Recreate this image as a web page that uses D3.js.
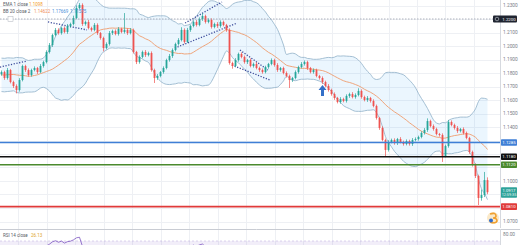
<!DOCTYPE html>
<html>
<head>
<meta charset="utf-8">
<script src="https://cdn.jsdelivr.net/npm/d3@7"></script>
<style>
  html, body { margin: 0; padding: 0; background: #fff; }
  svg { display: block; font-family: Roboto, "DejaVu Sans", sans-serif; }
</style>
</head>
<body>
<div id="chart"></div>
<script>
// daily closes, one per candle (left to right)
const closes = [
  1.1807, 1.1763, 1.1822, 1.1733, 1.1704,
  1.1674, 1.1748, 1.1852, 1.1822, 1.1785,
  1.1822, 1.1837, 1.1807, 1.1852, 1.1881,
  1.1956, 1.2007, 1.2081, 1.2119, 1.2096,
  1.2133, 1.2104, 1.2148, 1.2163, 1.2207,
  1.2281, 1.2304, 1.2163, 1.2178, 1.2133,
  1.2119, 1.2156, 1.2096, 1.2059, 1.1985,
  1.2015, 1.2096, 1.2111, 1.2089, 1.2126,
  1.2104, 1.2119, 1.2096, 1.2119, 1.1956,
  1.1881, 1.1919, 1.1956, 1.1933, 1.1948,
  1.1822, 1.1763, 1.1778, 1.1807, 1.1837,
  1.1896, 1.1926, 1.1970, 1.2015, 1.2044,
  1.2119, 1.2030, 1.2119, 1.2148, 1.2178,
  1.2156, 1.2200, 1.2222, 1.2178, 1.2193,
  1.2141, 1.2163, 1.2148, 1.2178, 1.2156,
  1.2119, 1.1874, 1.1852, 1.1896, 1.1941,
  1.1919, 1.1881, 1.1896, 1.1852, 1.1867,
  1.1837, 1.1822, 1.1807, 1.1844, 1.1867,
  1.1896, 1.1859, 1.1822, 1.1837, 1.1800,
  1.1778, 1.1748, 1.1763, 1.1807, 1.1844,
  1.1867, 1.1881, 1.1837, 1.1807, 1.1822,
  1.1778, 1.1763, 1.1733, 1.1704, 1.1674,
  1.1644, 1.1615, 1.1585, 1.1607, 1.1593,
  1.1630, 1.1644, 1.1622, 1.1637, 1.1667,
  1.1622, 1.1600, 1.1615, 1.1593, 1.1556,
  1.1467, 1.1393, 1.1304, 1.1230, 1.1289,
  1.1304, 1.1281, 1.1311, 1.1289, 1.1274,
  1.1296, 1.1274, 1.1304, 1.1311, 1.1326,
  1.1356, 1.1378, 1.1444, 1.1407, 1.1385,
  1.1348, 1.1341, 1.1185, 1.1259, 1.1437,
  1.1415, 1.1393, 1.1370, 1.1385, 1.1356,
  1.1319, 1.1215, 1.1119, 1.1037, 1.0874,
  1.0896, 1.1007, 1.0917
]
const firstOpen = 1.1790

// wick length above / below the body, in pips
const wickUp = [
  12,10,15,8,10, 12,14,10,9,12,
  10,12,8,14,10, 12,15,10,14,12,
  10,12,15,10,18, 20,14,12,10,15,
  10,14,12,8,10, 12,15,10,12,14,
  10,125,12,14,10, 8,12,10,14,10,
  12,10,14,8,12, 10,15,12,10,14,
  20,12,15,10,12, 14,12,20,10,12,
  12,10,14,12,10, 8,12,10,14,10,
  12,10,8,12,10, 14,10,12,10,8,
  12,10,14,8,10, 12,10,8,12,10,
  14,12,10,8,12, 10,8,12,10,14,
  10,12,8,14,10, 12,10,14,12,20,
  12,10,14,8,12, 10,8,12,10,14,
  10,12,8,14,10, 12,10,14,12,10,
  12,14,20,10,12, 10,8,12,10,15,
  12,10,14,8,12, 10,8,10,12,10,
  40,60,20
]
const wickDn = [
  10,14,12,10,15, 25,12,10,14,12,
  12,10,14,8,12, 10,12,14,10,12,
  12,10,14,12,10, 8,10,14,12,10,
  12,10,14,12,25, 10,12,14,10,12,
  10,12,14,10,12, 15,12,10,14,10,
  12,37,14,10,12, 10,12,14,10,12,
  10,12,8,14,10, 12,10,14,12,10,
  12,10,14,12,10, 14,12,20,10,12,
  10,12,14,10,12, 10,14,12,10,12,
  10,12,14,12,10, 12,59,14,10,12,
  10,12,14,10,12, 10,12,14,10,12,
  12,14,10,12,10, 12,14,10,12,10,
  12,10,14,12,10, 12,14,10,52,12,
  10,12,14,10,12, 10,12,14,10,12,
  10,12,14,10,12, 10,12,44,10,12,
  10,12,14,10,12, 10,14,12,15,52,
  20,15,15
]

// closes before the visible window, only used to seed the indicators
const priorCloses = [1.1800, 1.1760, 1.1720, 1.1690, 1.1740, 1.1800, 1.1860, 1.1890, 1.1850, 1.1800,
                     1.1750, 1.1700, 1.1680, 1.1730, 1.1790, 1.1850, 1.1880, 1.1840, 1.1790]

const priceTicks = [1.07, 1.08, 1.09, 1.10, 1.11, 1.12, 1.13, 1.14, 1.15, 1.16, 1.17, 1.18, 1.19, 1.20, 1.21, 1.22, 1.23]

const levelPrices = [1.1285, 1.1180, 1.1120, 1.0810]
const levelLabels = ["1.1285", "1.1180", "1.1120", "1.0810"]
const alertPrice = 1.2200
const lastLabel = ["1.0917", "12:59:35"]

// drawn trend lines: [candle index, price, candle index, price]
const trendLines = [
  [-0.5, 1.1844, 8.5, 1.1889],
  [15.5, 1.2178, 28.5, 1.2119],
  [61.2, 1.2170, 73.5, 1.2326],
  [57.8, 1.1985, 78.5, 1.2170],
  [79.5, 1.1970, 88.8, 1.1822],
  [76.8, 1.1859, 89.5, 1.1748]
]
const arrowMark = {index: 107, top: 1.1711, bottom: 1.1630}

const legendEma = {name: "EMA 1 close", value: "1.1098"}
const legendBB = {name: "BB 20 close 2", values: ["1.14622", "1.17669", "1.11575"]}
const legendRsi = {name: "RSI 14 close", value: "26.13"}

drawChart("#chart")

function drawChart(id){
  const canvas = createCanvas()
  const svg = d3.select(id).append("svg").attr("width", canvas.width).attr("height", canvas.height)
  const data = buildCandles()
  const sc = addScales(canvas)

  addGrid(svg, sc, canvas)
  const plot = addClip(svg, canvas)
  addBands(plot, sc, data)
  addTrendLines(plot, sc)
  addCandles(plot, sc, data)
  addLevels(svg, sc, canvas)
  addArrow(plot, sc)
  addAxis(svg, sc, canvas)
  addRsi(svg, sc, canvas, data)
  addLegends(svg)
  addLogo(svg)
}

function createCanvas(){
  return { width: 520, height: 245, plotRight: 500, plotBottom: 228, rsiTop: 229 }
}

function buildCandles(){
  return closes.map((c, i) => {
    const o = i === 0 ? firstOpen : closes[i - 1]
    return {
      i: i, open: o, close: c,
      high: Math.max(o, c) + wickUp[i] / 10000,
      low: Math.min(o, c) - wickDn[i] / 10000
    }
  })
}

function addScales(canvas){
  const xScale = d3.scaleLinear().domain([0, closes.length - 1]).range([1.5, 487.5])
  const yScale = d3.scaleLinear().domain([1.07, 1.23]).range([221.5, 5.5])
  return {xScale, yScale}
}

function addGrid(svg, sc, canvas){
  const g = svg.append("g")
  g.selectAll(".hgrid").data(priceTicks).enter().append("line")
    .attr("x1", 0).attr("x2", canvas.plotRight)
    .attr("y1", d => Math.round(sc.yScale(d)) + 0.5).attr("y2", d => Math.round(sc.yScale(d)) + 0.5)
    .attr("stroke", "#eef0f4").attr("stroke-width", 1)
  // vertical grid roughly every 9.5 candles
  g.selectAll(".vgrid").data(d3.range(5.5, 162, 9.5)).enter().append("line")
    .attr("x1", d => Math.round(sc.xScale(d)) + 0.5).attr("x2", d => Math.round(sc.xScale(d)) + 0.5)
    .attr("y1", 0).attr("y2", 245)
    .attr("stroke", "#eef0f4").attr("stroke-width", 1)
}

function addClip(svg, canvas){
  svg.append("clipPath").attr("id", "plotclip").append("rect")
    .attr("x", 0).attr("y", 0).attr("width", canvas.plotRight).attr("height", canvas.plotBottom)
  return svg.append("g").attr("clip-path", "url(#plotclip)")
}

function bollinger(){
  const all = priorCloses.concat(closes)
  const off = priorCloses.length
  return closes.map((c, i) => {
    const w = all.slice(i + off - 19, i + off + 1)
    const m = d3.mean(w)
    const sd = Math.sqrt(d3.mean(w, v => (v - m) * (v - m)))
    return {i: i, mid: m, up: m + 2 * sd, lo: m - 2 * sd}
  })
}

function addBands(plot, sc, data){
  const bb = bollinger()
  const area = d3.area().x(d => sc.xScale(d.i)).y0(d => sc.yScale(d.lo)).y1(d => sc.yScale(d.up)).curve(d3.curveMonotoneX)
  plot.append("path").datum(bb).attr("d", area).attr("fill", "#2196f3").attr("fill-opacity", 0.09)

  const lineOf = key => d3.line().x(d => sc.xScale(d.i)).y(d => sc.yScale(d[key])).curve(d3.curveMonotoneX)
  plot.append("path").datum(bb).attr("d", lineOf("up")).attr("fill", "none").attr("stroke", "#8fb0c8").attr("stroke-width", 0.8)
  plot.append("path").datum(bb).attr("d", lineOf("lo")).attr("fill", "none").attr("stroke", "#8fb0c8").attr("stroke-width", 0.8)
  plot.append("path").datum(bb).attr("d", lineOf("mid")).attr("fill", "none").attr("stroke", "#f0905a").attr("stroke-width", 0.8)
}

function addTrendLines(plot, sc){
  plot.selectAll(".trend").data(trendLines).enter().append("line")
    .attr("x1", d => sc.xScale(d[0])).attr("y1", d => sc.yScale(d[1]))
    .attr("x2", d => sc.xScale(d[2])).attr("y2", d => sc.yScale(d[3]))
    .attr("stroke", "#3b4a9a").attr("stroke-width", 1.3).attr("stroke-dasharray", "1.2 1.6")
}

function addCandles(plot, sc, data){
  const col = d => d.close >= d.open ? "#26a69a" : "#ef5350"
  plot.selectAll(".wick").data(data).enter().append("line")
    .attr("x1", d => sc.xScale(d.i)).attr("x2", d => sc.xScale(d.i))
    .attr("y1", d => sc.yScale(d.high)).attr("y2", d => sc.yScale(d.low))
    .attr("stroke", col).attr("stroke-width", 0.7)
  plot.selectAll(".body").data(data).enter().append("rect")
    .attr("x", d => sc.xScale(d.i) - 0.9).attr("width", 1.8)
    .attr("y", d => sc.yScale(Math.max(d.open, d.close)))
    .attr("height", d => Math.max(0.6, Math.abs(sc.yScale(d.open) - sc.yScale(d.close))))
    .attr("fill", col)
}

function addLevels(svg, sc, canvas){
  const levelColors = ["#3f7fd6", "#111111", "#4b8a2e", "#e03a3a"]
  const g = svg.append("g")
  g.selectAll(".lvl").data(levelPrices).enter().append("line")
    .attr("x1", 0).attr("x2", canvas.plotRight)
    .attr("y1", d => sc.yScale(d)).attr("y2", d => sc.yScale(d))
    .attr("stroke", (d, i) => levelColors[i]).attr("stroke-width", 1.6)

  // dotted alert line
  g.append("line").attr("x1", 0).attr("x2", 493)
    .attr("y1", sc.yScale(alertPrice)).attr("y2", sc.yScale(alertPrice))
    .attr("stroke", "#9aa0ac").attr("stroke-width", 0.8).attr("stroke-dasharray", "1.5 1.5")
  g.append("rect").attr("x", 8).attr("y", sc.yScale(alertPrice) - 2.5).attr("width", 5).attr("height", 5)
    .attr("fill", "#fff").attr("stroke", "#b0b4bd").attr("stroke-width", 0.5)
}

function addAxis(svg, sc, canvas){
  const levelColors = ["#3f7fd6", "#111111", "#4b8a2e", "#e03a3a"]
  const ax = svg.append("g")
  ax.append("line").attr("x1", canvas.plotRight + 0.5).attr("x2", canvas.plotRight + 0.5)
    .attr("y1", 0).attr("y2", canvas.plotBottom).attr("stroke", "#d6d9df")

  const boxY = levelPrices.map(p => sc.yScale(p)).concat([sc.yScale(1.0917), sc.yScale(alertPrice)])
  const visible = priceTicks.filter(t => boxY.every(b => Math.abs(sc.yScale(t) - b) > 6.5))
  ax.selectAll(".tick").data(visible).enter().append("text")
    .attr("x", 503).attr("y", d => sc.yScale(d) + 1.7)
    .attr("font-size", "4.8px").attr("fill", "#7a7e88")
    .text(d => d.toFixed(4))

  ax.selectAll(".lvlbox").data(levelPrices).enter().append("rect")
    .attr("x", 501).attr("y", d => sc.yScale(d) - 3.3).attr("width", 16).attr("height", 6.6).attr("rx", 0.8)
    .attr("fill", (d, i) => levelColors[i])
  ax.selectAll(".lvltxt").data(levelPrices).enter().append("text")
    .attr("x", 509).attr("y", d => sc.yScale(d) + 1.6).attr("text-anchor", "middle")
    .attr("font-size", "4.4px").attr("fill", "#fff")
    .text((d, i) => levelLabels[i])

  // last price with countdown
  const ly = sc.yScale(closes[closes.length - 1])
  ax.append("rect").attr("x", 501).attr("y", ly - 5).attr("width", 16).attr("height", 10.5).attr("rx", 0.8).attr("fill", "#2fa39a")
  ax.append("text").attr("x", 509).attr("y", ly - 0.7).attr("text-anchor", "middle").attr("font-size", "4.2px").attr("fill", "#fff").text(lastLabel[0])
  ax.append("text").attr("x", 509).attr("y", ly + 3.8).attr("text-anchor", "middle").attr("font-size", "3.8px").attr("fill", "#e8f6f4").text(lastLabel[1])

  // alert label
  const ay = sc.yScale(alertPrice)
  ax.append("rect").attr("x", 493).attr("y", ay - 3.6).attr("width", 24).attr("height", 7.2).attr("rx", 1).attr("fill", "#1f2430")
  ax.append("circle").attr("cx", 497).attr("cy", ay).attr("r", 1.8).attr("fill", "none").attr("stroke", "#cfd3da").attr("stroke-width", 0.6)
  ax.append("text").attr("x", 509).attr("y", ay + 1.6).attr("text-anchor", "middle").attr("font-size", "4.4px").attr("fill", "#fff").text(alertPrice.toFixed(4))
}

function addArrow(plot, sc){
  const x = sc.xScale(arrowMark.index)
  const yt = sc.yScale(arrowMark.top)
  const yb = sc.yScale(arrowMark.bottom)
  const p = `M${x},${yt} L${x + 4},${yt + 5} L${x + 1.5},${yt + 5} L${x + 1.5},${yb} L${x - 1.5},${yb} L${x - 1.5},${yt + 5} L${x - 4},${yt + 5} Z`
  plot.append("path").attr("d", p).attr("fill", "#3570c8")
}

function rsiSeries(){
  const all = priorCloses.concat(closes)
  const n = 14
  let ag = 0, al = 0
  const out = []
  for(let k = 1; k < all.length; k++){
    const ch = all[k] - all[k - 1]
    const gn = Math.max(ch, 0), ls = Math.max(-ch, 0)
    if(k <= n){ ag += gn / n; al += ls / n }
    else { ag = (ag * (n - 1) + gn) / n; al = (al * (n - 1) + ls) / n }
    const idx = k - priorCloses.length
    if(k >= n && idx >= 0) out.push({i: idx, v: al === 0 ? 100 : 100 - 100 / (1 + ag / al)})
  }
  return out
}

function addRsi(svg, sc, canvas, data){
  const g = svg.append("g")
  g.append("line").attr("x1", 0).attr("x2", canvas.width).attr("y1", canvas.rsiTop + 0.5).attr("y2", canvas.rsiTop + 0.5)
    .attr("stroke", "#c9ccd3").attr("stroke-width", 1)
  const ry = d3.scaleLinear().domain([70, 90]).range([241, 229])
  g.append("rect").attr("x", 0).attr("y", ry(70)).attr("width", canvas.plotRight).attr("height", 10).attr("fill", "#7e57c2").attr("fill-opacity", 0.1)
  g.append("line").attr("x1", 0).attr("x2", canvas.plotRight).attr("y1", ry(70)).attr("y2", ry(70))
    .attr("stroke", "#b9a8dc").attr("stroke-width", 0.5).attr("stroke-dasharray", "2 2")
  g.append("clipPath").attr("id", "rsiclip").append("rect").attr("x", 0).attr("y", canvas.rsiTop + 1).attr("width", canvas.plotRight).attr("height", 20)
  const line = d3.line().x(d => sc.xScale(d.i)).y(d => ry(d.v))
  g.append("path").datum(rsiSeries()).attr("d", line).attr("clip-path", "url(#rsiclip)")
    .attr("fill", "none").attr("stroke", "#7e57c2").attr("stroke-width", 0.8)
  g.append("line").attr("x1", canvas.plotRight + 0.5).attr("x2", canvas.plotRight + 0.5).attr("y1", canvas.rsiTop).attr("y2", canvas.height).attr("stroke", "#d6d9df")
  g.append("text").attr("x", 503).attr("y", 236).attr("font-size", "4.8px").attr("fill", "#7a7e88").text("80.00")
  g.append("text").attr("x", 3).attr("y", 236.5).attr("font-size", "4.5px").attr("fill", "#555a66").text(legendRsi.name)
  g.append("text").attr("x", 31).attr("y", 236.5).attr("font-size", "4.5px").attr("fill", "#e0a526").text(legendRsi.value)
}

function addLegends(svg){
  const g = svg.append("g").attr("font-size", "4.5px")
  g.append("text").attr("x", 3).attr("y", 5.5).attr("fill", "#555a66").text(legendEma.name)
  g.append("text").attr("x", 29).attr("y", 5.5).attr("fill", "#f39a1f").text(legendEma.value)
  g.append("text").attr("x", 3).attr("y", 13).attr("fill", "#555a66").text(legendBB.name)
  const cols = ["#f0905a", "#4a90d9", "#4a90d9"]
  legendBB.values.forEach((v, i) => {
    g.append("text").attr("x", 34 + i * 18).attr("y", 13).attr("fill", cols[i]).text(v)
  })
}

function addLogo(svg){
  const g = svg.append("g").attr("transform", "translate(493,218)")
  g.append("circle").attr("r", 6).attr("fill", "#fbe9c8")
  g.append("path").attr("d", "M-3,-4 Q3,-6 3,-2 Q3,0 0,0 Q4,0 4,3 Q3,6 -3,4")
    .attr("fill", "none").attr("stroke", "#f0a030").attr("stroke-width", 1.6)
  g.append("circle").attr("cx", -2).attr("cy", 2.5).attr("r", 2).attr("fill", "#2d6bd1")
}
</script>
</body>
</html>
